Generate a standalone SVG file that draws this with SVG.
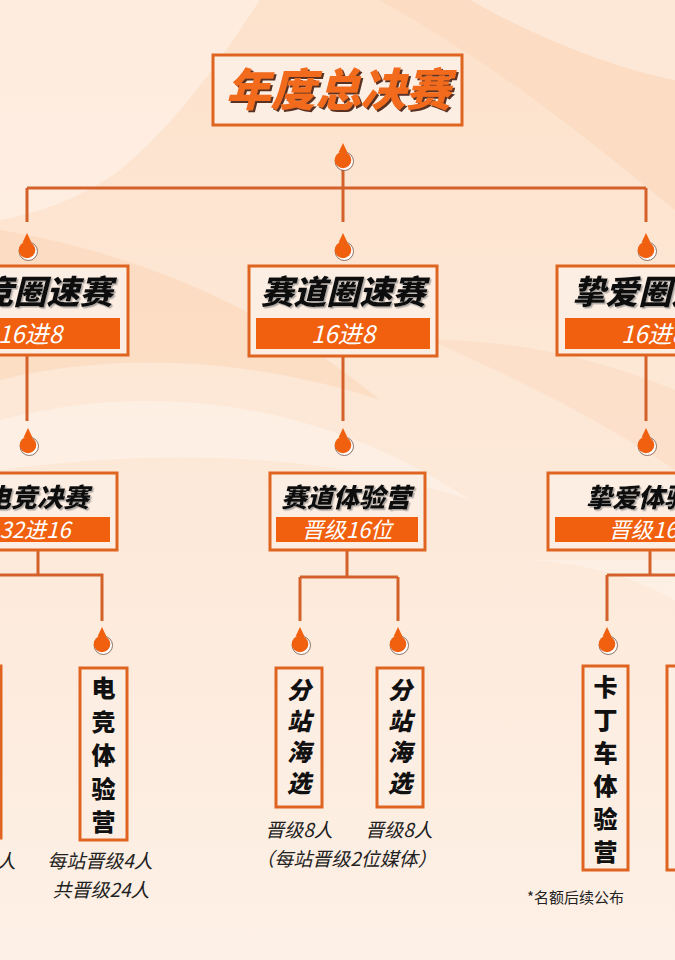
<svg xmlns="http://www.w3.org/2000/svg" xmlns:xlink="http://www.w3.org/1999/xlink" width="675" height="960" viewBox="0 0 675 960">
<style>
.cn{font-family:"Noto Sans CJK SC","Noto Sans",sans-serif}
.box{fill:#fdeee3;stroke:#df6420;stroke-width:3}
.bar{fill:#f0600f}
.ln{fill:none;stroke:#d4612a;stroke-width:3}
.t1{font-size:45px;font-weight:900;font-style:italic;fill:#f26b1d;text-anchor:middle}
.t2{font-size:33px;font-weight:900;font-style:italic;fill:#111;text-anchor:middle}
.t3{font-size:26px;font-weight:900;font-style:italic;fill:#111;text-anchor:middle}
.b2{font-size:24px;font-style:italic;fill:#fff;text-anchor:middle}
.b3{font-size:22px;font-style:italic;fill:#fff;text-anchor:middle}
.lf{font-size:24px;font-weight:900;fill:#111;writing-mode:vertical-rl;text-anchor:start}
.note{font-size:19px;font-style:italic;fill:#222;text-anchor:middle}
</style>
<defs>
<linearGradient id="bg" x1="0" y1="0" x2="0" y2="1">
<stop offset="0" stop-color="#fde2cc"/>
<stop offset="0.45" stop-color="#fde8d7"/>
<stop offset="1" stop-color="#fdf0e6"/>
</linearGradient>
<filter id="sh1" x="-10%" y="-10%" width="130%" height="140%">
<feDropShadow dx="2" dy="2" stdDeviation="0.4" flood-color="#4a1e08" flood-opacity="0.9"/>
</filter>
<filter id="sh2" x="-10%" y="-10%" width="130%" height="140%">
<feDropShadow dx="1.5" dy="1.5" stdDeviation="0.6" flood-color="#777" flood-opacity="0.6"/>
</filter>
<g id="drop">
<circle cx="1.3" cy="1.3" r="9.2" fill="#fff" stroke="#5a3a2a" stroke-width="0.7"/>
<path d="M0 -17 L-4.5 -7.5 L4.5 -7.5 Z" fill="#f0600f"/>
<circle cx="0" cy="0" r="8.3" fill="#f0600f"/>
</g>
</defs>

<g id="background">
<rect width="675" height="960" fill="url(#bg)"/>
<path d="M0 0 H260 C220 60 180 120 120 170 C80 200 30 215 0 220 Z" fill="#fff" opacity="0.35"/>
<path d="M380 0 H675 V210 C600 150 520 80 380 0 Z" fill="#fbd6b8" opacity="0.5"/>
<path d="M470 0 C540 40 620 70 675 80 V0 Z" fill="#fff" opacity="0.35"/>
<path d="M0 230 C120 250 260 300 380 400 C260 360 120 350 0 380 Z" fill="#fbd3b2" opacity="0.45"/>
<path d="M0 420 C150 380 320 400 470 500 C320 450 150 450 0 470 Z" fill="#fff" opacity="0.3"/>
<path d="M430 340 C520 380 600 420 675 470 V390 C600 360 520 340 430 340 Z" fill="#fbd8bc" opacity="0.45"/>
<path d="M520 560 C580 560 640 580 675 600 V560 Z" fill="#fff" opacity="0.25"/>
</g>

<g id="connectors">
<path class="ln" d="M343 165 V222 M27 188 H646 M27 188 V222 M646 188 V222"/>
<path class="ln" d="M27 355 V421 M343 357 V421 M646 355 V421"/>
<path class="ln" d="M38 550 V575 M0 575 H102 V621"/>
<path class="ln" d="M347 550 V577 M300 577 H398 M300 577 V621 M398 577 V621"/>
<path class="ln" d="M650 550 V575 M607 575 H690 M607 575 V621"/>
</g>

<g id="markers">
<use href="#drop" x="343" y="160"/>
<use href="#drop" x="27" y="250"/>
<use href="#drop" x="343" y="250"/>
<use href="#drop" x="646" y="250"/>
<use href="#drop" x="28" y="445"/>
<use href="#drop" x="343" y="445"/>
<use href="#drop" x="646" y="445"/>
<use href="#drop" x="102" y="644"/>
<use href="#drop" x="300" y="644"/>
<use href="#drop" x="398" y="644"/>
<use href="#drop" x="607" y="644"/>
</g>

<g id="node-final">
<rect class="box" x="213" y="55" width="249" height="70" stroke-width="3.5" stroke="#ee6a22"/>
<text class="cn t1" x="338" y="106" filter="url(#sh1)">年度总决赛</text>
</g>

<g id="node-esports-lap">
<rect class="box" x="-70" y="266" width="198" height="89"/>
<text class="cn t2" x="30" y="304" filter="url(#sh2)">电竞圈速赛</text>
<rect class="bar" x="-62" y="318" width="182" height="31"/>
<text class="cn b2" x="30" y="343">16进8</text>
</g>

<g id="node-track-lap">
<rect class="box" x="249" y="266" width="188" height="90"/>
<text class="cn t2" x="343" y="304" filter="url(#sh2)">赛道圈速赛</text>
<rect class="bar" x="256" y="318" width="174" height="31"/>
<text class="cn b2" x="343" y="343">16进8</text>
</g>

<g id="node-love-lap">
<rect class="box" x="557" y="266" width="200" height="89"/>
<text class="cn t2" x="655" y="304" filter="url(#sh2)">挚爱圈速赛</text>
<rect class="bar" x="565" y="318" width="190" height="31"/>
<text class="cn b2" x="653" y="343">16进8</text>
</g>

<g id="node-esports-final">
<rect class="box" x="-40" y="473" width="157" height="77"/>
<text class="cn t3" x="37" y="507" filter="url(#sh2)">电竞决赛</text>
<rect class="bar" x="-33" y="517" width="143" height="25"/>
<text class="cn b3" x="35" y="538">32进16</text>
</g>

<g id="node-track-camp">
<rect class="box" x="270" y="473" width="155" height="77"/>
<text class="cn t3" x="346" y="507" filter="url(#sh2)">赛道体验营</text>
<rect class="bar" x="276" y="517" width="142" height="25"/>
<text class="cn b3" x="347" y="538">晋级16位</text>
</g>

<g id="node-love-camp">
<rect class="box" x="548" y="473" width="214" height="77"/>
<text class="cn t3" x="651" y="507" filter="url(#sh2)">挚爱体验营</text>
<rect class="bar" x="555" y="517" width="200" height="25"/>
<text class="cn b3" x="654" y="538">晋级16位</text>
</g>

<g id="node-left-partial">
<rect class="box" x="-45" y="666" width="46" height="172"/>
<text class="cn note" x="-37" y="868">每站晋级4人</text>
</g>

<g id="node-esports-camp">
<rect class="box" x="80" y="668" width="47" height="172"/>
<text class="cn lf" x="103.5" y="676" letter-spacing="9.5">电竞体验营</text>
<text class="cn note" x="100" y="868">每站晋级4人</text>
<text class="cn note" x="101" y="897">共晋级24人</text>
</g>

<g id="node-station-1">
<rect class="box" x="276" y="668" width="46" height="139"/>
<text class="cn lf" x="299" y="678" letter-spacing="7" font-style="italic">分站海选</text>
<text class="cn note" x="299" y="837">晋级8人</text>
</g>

<g id="node-station-2">
<rect class="box" x="377" y="668" width="46" height="139"/>
<text class="cn lf" x="400" y="678" letter-spacing="7" font-style="italic">分站海选</text>
<text class="cn note" x="399" y="837">晋级8人</text>
</g>

<text class="cn note" x="346" y="866" font-size="18">（每站晋级2位媒体）</text>

<g id="node-kart-camp">
<rect class="box" x="583" y="666" width="45" height="204"/>
<text class="cn lf" x="605.5" y="675" letter-spacing="9">卡丁车体验营</text>
</g>

<g id="node-right-partial">
<rect class="box" x="667" y="666" width="46" height="204"/>
</g>

<text class="cn" x="527" y="903" font-size="15" fill="#222">*名额后续公布</text>
</svg>
